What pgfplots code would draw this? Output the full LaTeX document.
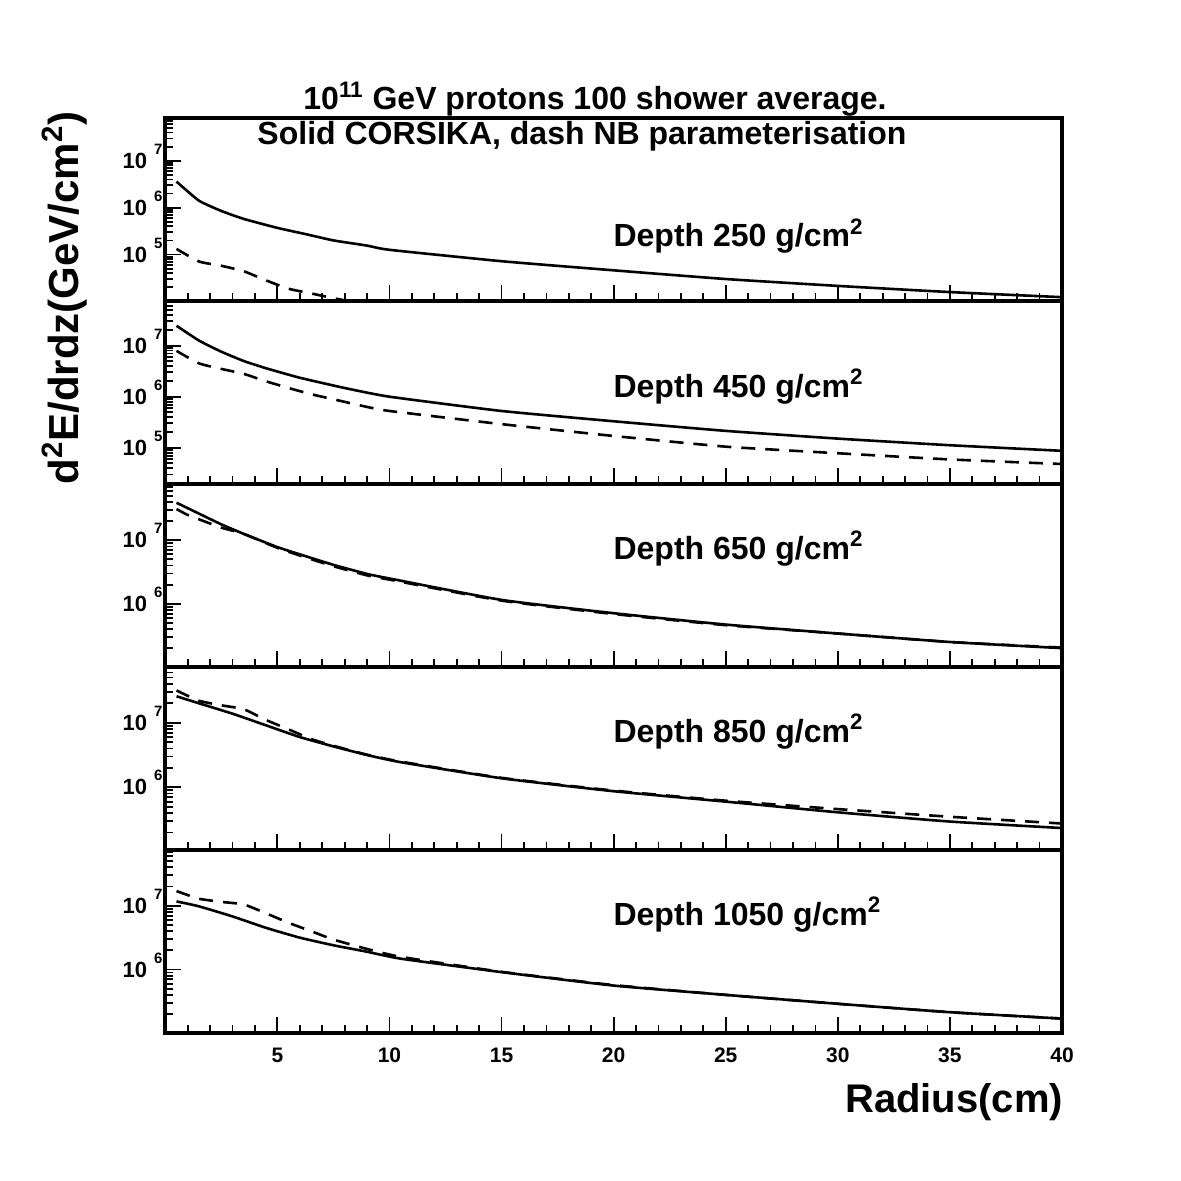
\documentclass[border=0pt]{standalone}
\usepackage{fontspec}
\setmainfont{Liberation Sans}
\usepackage{pgfplots}
\pgfplotsset{compat=1.18}

% 1 px of the 1181 px reference = 0.5pt
\pgfplotsset{
  panel/.style={
    scale only axis, width=448.35pt, height=91.5pt,
    anchor=south west,
    xmin=0, xmax=40,
    axis line style={line width=2pt},
    tick pos=left, tick align=inside,
    major tick length=8pt, minor tick length=4pt,
    every tick/.style={black, line width=0.9pt},
    xtick={5,10,...,40}, minor xtick={1,2,...,39},
    xticklabels={},
    ytick={1e4,1e5,1e6,1e7},
    minor ytick={2e4,3e4,4e4,5e4,6e4,7e4,8e4,9e4,2e5,3e5,4e5,5e5,6e5,7e5,8e5,9e5,2e6,3e6,4e6,5e6,6e6,7e6,8e6,9e6,2e7,3e7,4e7,5e7,6e7,7e7,8e7,9e7},
    yticklabel={\pgfmathtruncatemacro{\ex}{round(\tick/2.302585093)}10\smash{\raisebox{7pt}{\fontsize{7.5}{7.5}\selectfont\hspace{3.5pt}\ex}}},
    yticklabel style={anchor=east, inner sep=0pt, xshift=-1.2pt, font=\fontsize{11}{11}\selectfont\bfseries},
  },
  cors/.style={black, line width=1.3pt, smooth, tension=0.3},
  nb/.style={black, line width=1.3pt, smooth, tension=0.3, dash pattern=on 7pt off 5pt},
}
\tikzset{depthlbl/.style={anchor=base west, font=\fontsize{16}{16}\selectfont\bfseries}}

\begin{document}
\begin{tikzpicture}
\path[use as bounding box] (0,0) rectangle (590.5pt,590.5pt);

% Depth 250
\begin{semilogyaxis}[panel, at={(82.65pt,440pt)}, ymin=1.02e4, ymax=8.2e7]
\addplot[cors] coordinates {(0.5,3.6e6)(1.5,1.41e6)(2.5,8.5e5)(3.5,5.75e5)(5,3.7e5)(6.3,2.7e5)(7.5,2.0e5)(9,1.55e5)(10,1.26e5)(15,7.2e4)(20,4.6e4)(25,3.0e4)(30,2.14e4)(35,1.58e4)(40,1.23e4)};
\addplot[nb] coordinates {(0.5,1.32e5)(1.5,7.1e4)(2.5,5.75e4)(3.5,4.4e4)(4.5,2.8e4)(5.5,1.86e4)(6.5,1.48e4)(7.5,1.17e4)(8.5,9.5e3)(9.5,8e3)};
\node[depthlbl] at (rel axis cs:0.492,0.295) {Depth 250 g/cm\textsuperscript{2}};
\end{semilogyaxis}

% Depth 450
\begin{semilogyaxis}[panel, at={(82.65pt,348.5pt)}, ymin=1.95e4, ymax=7.5e7]
\addplot[cors] coordinates {(0.5,2.45e7)(1.5,1.26e7)(2.5,7.6e6)(3.5,5.0e6)(4.5,3.6e6)(6,2.35e6)(8,1.48e6)(10,1.0e6)(15,5.25e5)(20,3.3e5)(25,2.14e5)(30,1.51e5)(35,1.12e5)(40,8.7e4)};
\addplot[nb] coordinates {(0.5,7.9e6)(1.5,4.5e6)(2.5,3.5e6)(3.5,2.8e6)(4.5,2.0e6)(5.5,1.48e6)(6.5,1.12e6)(7.5,8.9e5)(9,6.3e5)(10,5.25e5)(15,2.9e5)(20,1.7e5)(25,1.05e5)(30,7.8e4)(35,5.9e4)(40,4.8e4)};
\node[depthlbl] at (rel axis cs:0.492,0.475) {Depth 450 g/cm\textsuperscript{2}};
\end{semilogyaxis}

% Depth 650
\begin{semilogyaxis}[panel, at={(82.65pt,257pt)}, ymin=1.01e5, ymax=7.7e7]
\addplot[cors] coordinates {(0.5,3.9e7)(1.5,2.63e7)(2.5,1.78e7)(3.5,1.26e7)(5,7.8e6)(6,6.0e6)(7.5,4.1e6)(9,2.95e6)(10,2.5e6)(15,1.15e6)(20,7.1e5)(25,4.7e5)(30,3.4e5)(35,2.5e5)(40,2.0e5)};
\addplot[nb] coordinates {(0.5,3.1e7)(1,2.5e7)(1.5,2.14e7)(2.5,1.58e7)(3.5,1.26e7)(5,7.6e6)(6,5.75e6)(7.5,3.9e6)(9,2.8e6)(10,2.4e6)(15,1.12e6)(20,6.9e5)(25,4.6e5)(30,3.4e5)(35,2.5e5)(40,2.04e5)};
\node[depthlbl] at (rel axis cs:0.492,0.59) {Depth 650 g/cm\textsuperscript{2}};
\end{semilogyaxis}

% Depth 850
\begin{semilogyaxis}[panel, at={(82.65pt,165.5pt)}, ymin=1.07e5, ymax=7.3e7]
\addplot[cors] coordinates {(0.5,2.57e7)(1.5,2.0e7)(3,1.38e7)(4.5,9.1e6)(6,6.0e6)(7.5,4.3e6)(9,3.16e6)(10.5,2.45e6)(15,1.38e6)(20,8.7e5)(25,6.0e5)(30,4.1e5)(35,2.95e5)(40,2.34e5)};
\addplot[nb] coordinates {(0.5,3.16e7)(1.5,2.19e7)(2.5,1.86e7)(3.5,1.62e7)(4.5,1.1e7)(5.5,7.9e6)(6.5,5.6e6)(7.5,4.4e6)(9,3.2e6)(10.5,2.5e6)(15,1.4e6)(20,8.9e5)(25,6.2e5)(30,4.6e5)(35,3.5e5)(40,2.75e5)};
\node[depthlbl] at (rel axis cs:0.492,0.59) {Depth 850 g/cm\textsuperscript{2}};
\end{semilogyaxis}

% Depth 1050
\begin{semilogyaxis}[panel, at={(82.65pt,74pt)}, ymin=1.01e5, ymax=7.5e7,
  xticklabels={5,10,15,20,25,30,35,40},
  xticklabel style={anchor=north, inner sep=0pt, text height=7.6pt, text depth=0pt, yshift=-7pt, font=\fontsize{10.5}{10.5}\selectfont\bfseries}]
\addplot[cors] coordinates {(0.5,1.17e7)(1.5,9.8e6)(3,6.8e6)(4.5,4.5e6)(6,3.16e6)(7.5,2.4e6)(9,1.9e6)(10.5,1.48e6)(15,9.1e5)(20,5.6e5)(25,4.0e5)(30,2.9e5)(35,2.14e5)(40,1.7e5)};
\addplot[nb] coordinates {(0.5,1.7e7)(1.5,1.29e7)(2.5,1.15e7)(3.5,1.05e7)(4.5,7.6e6)(5.5,5.4e6)(6.5,4.0e6)(7.5,2.95e6)(9,2.1e6)(10.5,1.58e6)(15,9.2e5)(20,5.7e5)(25,4.0e5)(30,2.9e5)(35,2.14e5)(40,1.7e5)};
\node[depthlbl] at (rel axis cs:0.492,0.59) {Depth 1050 g/cm\textsuperscript{2}};
\end{semilogyaxis}

% titles and axis names
\node[anchor=base, font=\fontsize{16}{16}\selectfont\bfseries] at (297.5pt,535.5pt) {10\textsuperscript{11} GeV protons 100 shower average.};
\node[anchor=base, font=\fontsize{16}{16}\selectfont\bfseries] at (291pt,518pt) {Solid CORSIKA, dash NB parameterisation};
\node[rotate=90, anchor=base, font=\fontsize{21}{21}\selectfont\bfseries] at (39pt,441.5pt) {d\textsuperscript{2}E/drdz(GeV/cm\textsuperscript{2})};
\node[anchor=base east, font=\fontsize{20}{20}\selectfont\bfseries] at (535pt,34pt) {Radius(cm)};
\end{tikzpicture}
\end{document}
